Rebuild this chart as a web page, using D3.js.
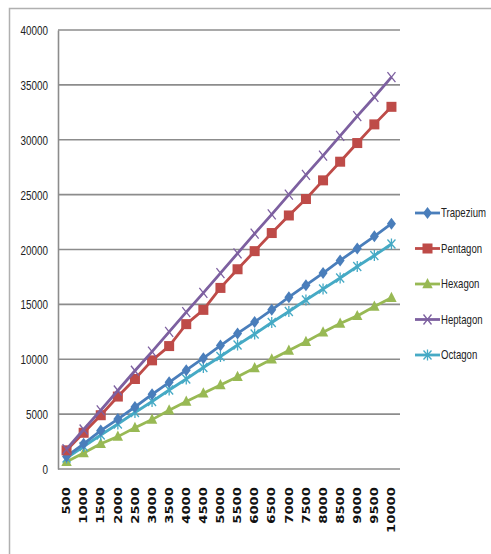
<!DOCTYPE html>
<html>
<head>
<meta charset="utf-8">
<script src="https://cdn.jsdelivr.net/npm/d3@7"></script>
<style>
  html, body { margin: 0; padding: 0; background: #fff; }
  svg { display: block; }
</style>
</head>
<body>
<svg id="chart" width="491" height="554"></svg>
<script>
// Side length categories along the x axis
const sizes = ["500","1000","1500","2000","2500","3000","3500","4000","4500","5000",
               "5500","6000","6500","7000","7500","8000","8500","9000","9500","10000"];

const trapezium = [1150, 2300, 3500, 4550, 5650, 6800, 7900, 9000, 10100, 11250,
                   12350, 13400, 14500, 15650, 16750, 17850, 19000, 20100, 21200, 22350];
const pentagon  = [1700, 3300, 4900, 6600, 8200, 9900, 11200, 13200, 14500, 16500,
                   18200, 19850, 21500, 23100, 24600, 26300, 28000, 29700, 31400, 33000];
const hexagon   = [650, 1450, 2300, 2950, 3750, 4500, 5350, 6150, 6900, 7650,
                   8400, 9200, 10000, 10800, 11600, 12450, 13250, 13950, 14800, 15600];
const heptagon  = [1800, 3600, 5350, 7150, 8950, 10700, 12500, 14300, 16050, 17850,
                   19650, 21450, 23200, 25000, 26800, 28550, 30350, 32150, 33900, 35700];
const octagon   = [1000, 2050, 3100, 4100, 5150, 6150, 7200, 8200, 9250, 10250,
                   11300, 12300, 13350, 14350, 15400, 16400, 17400, 18450, 19450, 20500];

const yTicks = [0, 5000, 10000, 15000, 20000, 25000, 30000, 35000, 40000];

const series = [
  { name: "Trapezium", values: trapezium, color: "#4A7EBB", marker: "diamond" },
  { name: "Pentagon",  values: pentagon,  color: "#BE4B48", marker: "square" },
  { name: "Hexagon",   values: hexagon,   color: "#98B954", marker: "triangle" },
  { name: "Heptagon",  values: heptagon,  color: "#7D60A0", marker: "cross" },
  { name: "Octagon",   values: octagon,   color: "#46AAC5", marker: "star" }
];

const svg = d3.select("#chart");
const plot = { left: 58, right: 400, top: 30, bottom: 469 };
const labelFont = "'Liberation Sans', Arial, sans-serif";

// outer chart frame
svg.append("rect")
  .attr("x", 9.5).attr("y", 8.5)
  .attr("width", 520).attr("height", 600)
  .attr("fill", "#fff").attr("stroke", "#b0b0b0").attr("stroke-width", 1.5);

const x = d3.scaleBand().domain(sizes).range([plot.left, plot.right]);
const y = d3.scaleLinear().domain([0, 40000]).range([plot.bottom, plot.top]);

// horizontal gridlines
svg.append("g")
  .selectAll("line")
  .data(yTicks)
  .join("line")
  .attr("x1", plot.left).attr("x2", plot.right)
  .attr("y1", d => y(d)).attr("y2", d => y(d))
  .attr("stroke", "#8c8c8c").attr("stroke-width", 1.6);

// y axis, narrow digits
const yAxis = svg.append("g")
  .attr("transform", `translate(${plot.left},0)`)
  .call(d3.axisLeft(y).tickValues(yTicks).tickSize(0).tickFormat(d3.format("d")));
yAxis.select(".domain").attr("stroke", "#8c8c8c").attr("stroke-width", 1.6);
yAxis.selectAll(".tick text")
  .attr("x", 0).attr("dy", "0.35em")
  .attr("transform", "translate(-10,0) scale(0.76,1)")
  .attr("font-family", labelFont)
  .attr("font-size", 13).attr("fill", "#222");

// x axis with vertical labels
const xAxis = svg.append("g")
  .attr("transform", `translate(0,${plot.bottom})`)
  .call(d3.axisBottom(x).tickSize(0).tickPadding(0));
xAxis.select(".domain").remove();
xAxis.selectAll("text")
  .attr("font-family", "'DejaVu Sans', sans-serif")
  .attr("font-size", 10.5).attr("font-weight", "bold").attr("fill", "#111")
  .attr("text-anchor", "end")
  .attr("transform", "translate(0,18) rotate(-90)")
  .attr("dx", 0).attr("dy", "0.35em").attr("y", 0)
  .attr("textLength", d => d.length * 9.2)
  .attr("lengthAdjust", "spacingAndGlyphs");

const cx = d => x(d) + x.bandwidth() / 2;

function drawMarker(g, type, color) {
  if (type === "diamond") {
    g.append("path").attr("d", "M0,-6L4.5,0L0,6L-4.5,0Z").attr("fill", color);
  } else if (type === "square") {
    g.append("rect").attr("x", -5).attr("y", -5).attr("width", 10).attr("height", 10).attr("fill", color);
  } else if (type === "triangle") {
    g.append("path").attr("d", "M0,-6L5.2,4.2L-5.2,4.2Z").attr("fill", color);
  } else if (type === "cross") {
    g.append("path").attr("d", "M-4,-5L4,5M4,-5L-4,5")
      .attr("stroke", color).attr("stroke-width", 1.3).attr("fill", "none");
  } else if (type === "star") {
    g.append("path").attr("d", "M-4,-4.5L4,4.5M4,-4.5L-4,4.5M0,-5.5L0,5.5")
      .attr("stroke", color).attr("stroke-width", 1.3).attr("fill", "none");
  }
}

const line = d3.line().x((d, i) => cx(sizes[i])).y(d => y(d));

// series lines and markers, drawn bottom-up so the top series sits over the others
const drawOrder = [2, 4, 0, 1, 3];
drawOrder.forEach(k => {
  const s = series[k];
  svg.append("path")
    .datum(s.values)
    .attr("d", line)
    .attr("fill", "none")
    .attr("stroke", s.color)
    .attr("stroke-width", 2.8)
    .attr("stroke-linejoin", "round");
  s.values.forEach((v, i) => {
    const g = svg.append("g").attr("transform", `translate(${cx(sizes[i])},${y(v)})`);
    drawMarker(g, s.marker, s.color);
  });
});

// legend
const legend = svg.append("g");
series.forEach((s, i) => {
  const ly = 213 + i * 35.5;
  const g = legend.append("g").attr("transform", `translate(0,${ly})`);
  g.append("line").attr("x1", 415).attr("x2", 440).attr("y1", 0).attr("y2", 0)
    .attr("stroke", s.color).attr("stroke-width", 2.8);
  const m = g.append("g").attr("transform", "translate(427.5,0)");
  drawMarker(m, s.marker, s.color);
  g.append("text")
    .attr("transform", "translate(441,0) scale(0.8,1)")
    .attr("x", 0).attr("y", 0).attr("dy", "0.35em")
    .attr("font-family", labelFont)
    .attr("font-size", 12).attr("fill", "#222")
    .text(s.name);
});
</script>
</body>
</html>
